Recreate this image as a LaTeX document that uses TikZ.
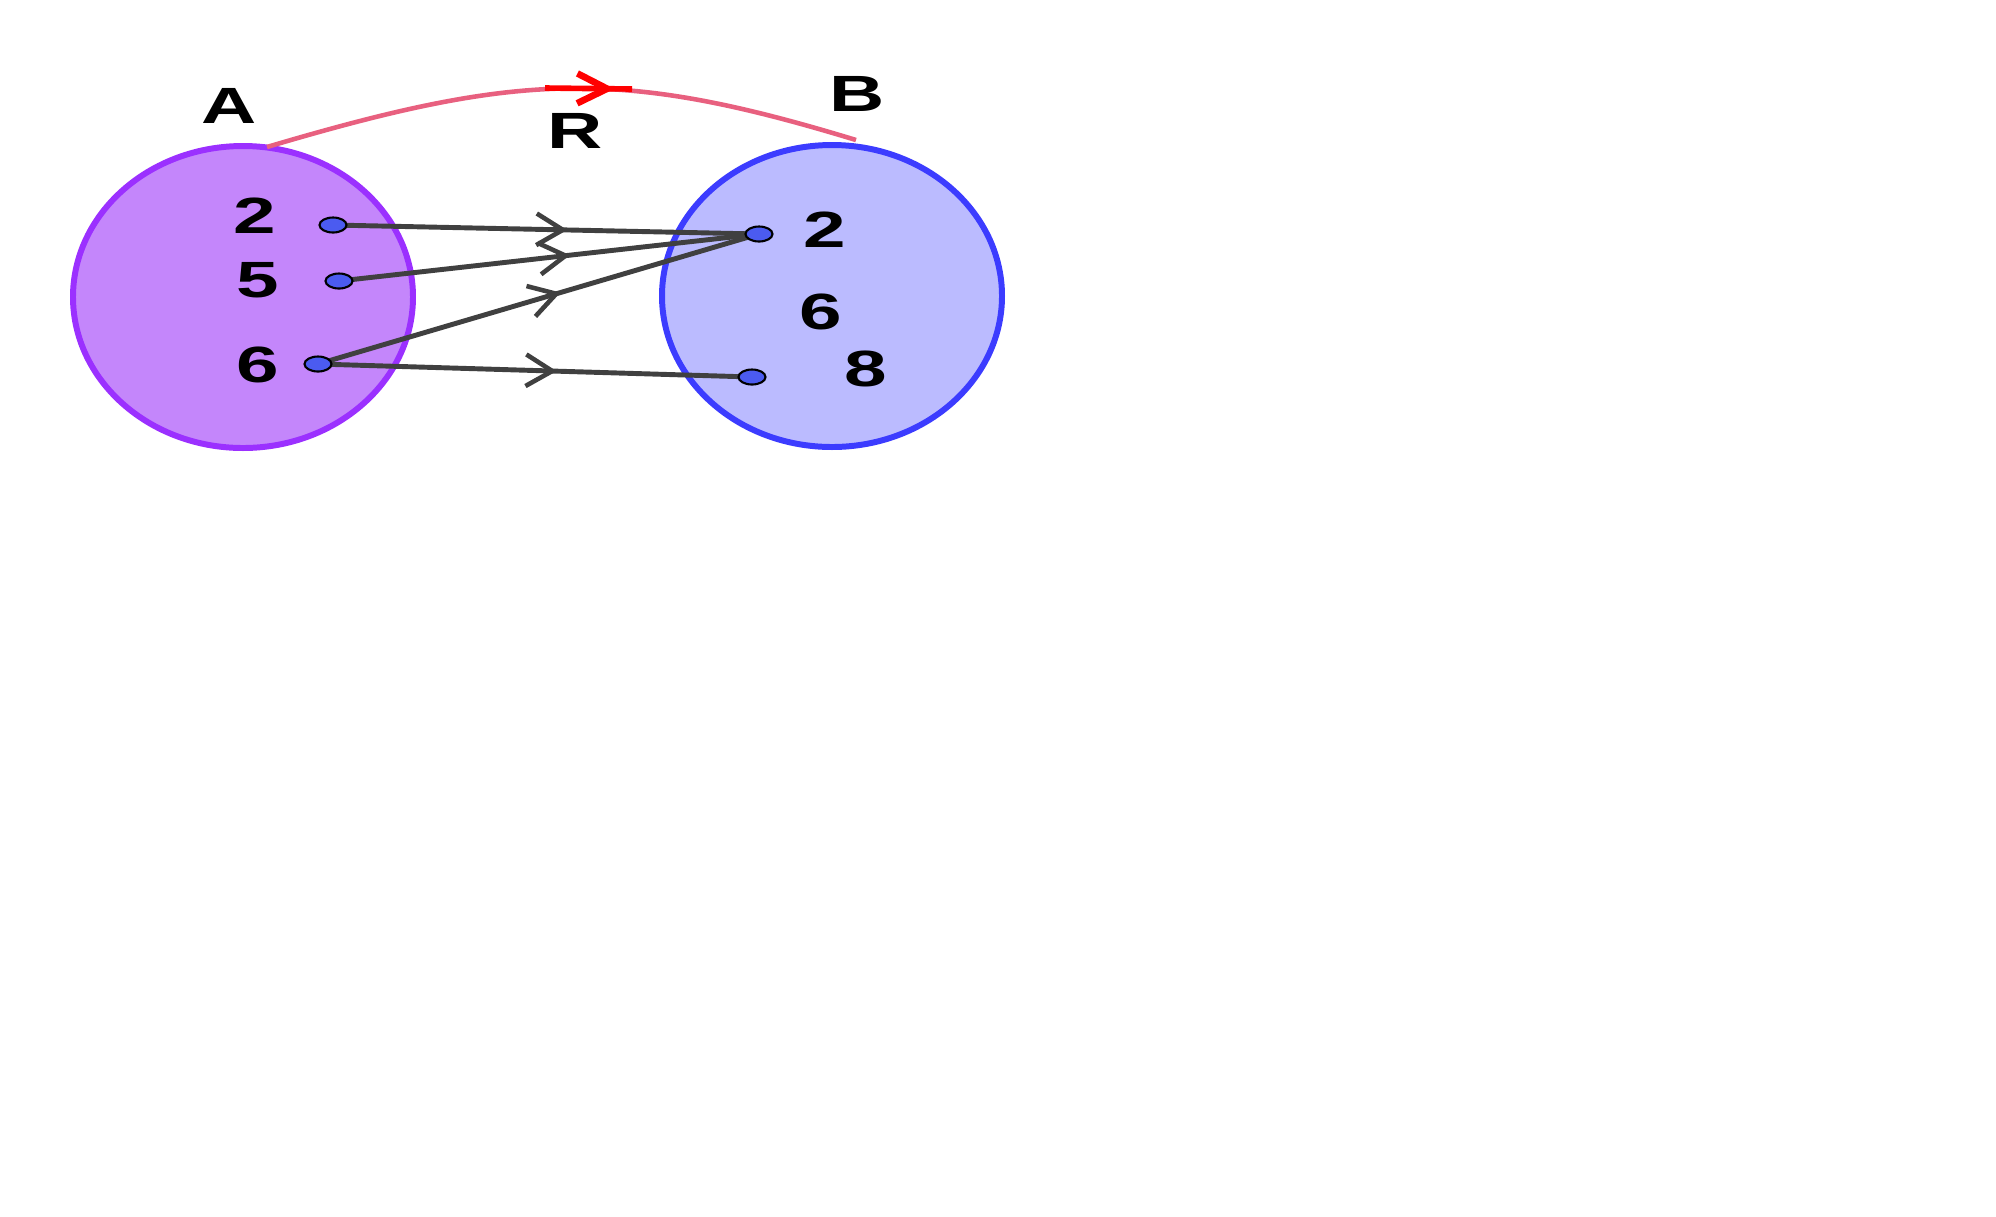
\documentclass[tikz,border=0pt]{standalone}
\usepackage{fontspec}
\newfontfamily\lbl[FakeStretch=1.5]{Liberation Sans}
\usetikzlibrary{shapes.geometric,arrows.meta,decorations.markings}
\definecolor{afill}{HTML}{C486FB}
\definecolor{adraw}{HTML}{9B30FF}
\definecolor{bfill}{HTML}{BBBBFF}
\definecolor{bdraw}{HTML}{3C3CFF}
\definecolor{dotc}{HTML}{4B5BF0}
\definecolor{connc}{HTML}{404040}
\definecolor{arcc}{HTML}{E8607F}
\definecolor{arcred}{HTML}{FF0000}
\tikzset{
  setbox/.style={ellipse, inner sep=0pt, minimum width=34mm, minimum height=30.2mm, line width=1.7pt},
  txt/.style={font=\lbl\bfseries\fontsize{14.5}{16}\selectfont, inner sep=0pt, anchor=center},
  eldot/.style={ellipse, draw=black, fill=dotc, line width=0.6pt, inner sep=0pt, minimum width=2.7mm, minimum height=1.5mm},
  conn/.style={draw=connc, line width=1.4pt,
    postaction={decorate, decoration={markings, mark=at position 0.55 with {\arrow[connc]{Straight Barb[length=7.5pt, width=9pt, line width=1.3pt]}}}}},
  relarc/.style={draw=arcc, line width=1.3pt},
  relarrow/.style={draw=arcred, line width=1.6pt,
    postaction={decorate, decoration={markings, mark=at position 0.8 with {\arrow[arcred]{Straight Barb[length=8.5pt, width=8.5pt, line width=1.9pt]}}}}}
}
\begin{document}
\begin{tikzpicture}[x=0.1mm, y=-0.1mm]
\useasboundingbox (0,0) rectangle (1996,1216);
\fill[white] (0,0) rectangle (1996,1216);
% sets
\node (SA) [setbox, draw=adraw, fill=afill] at (243,297) {};
\node (SB) [setbox, draw=bdraw, fill=bfill] at (832,296) {};
% labels
\node (lA) [txt] at (229,106) {A};
\node (lB) [txt] at (857,94) {B};
\node (lR) [txt] at (575,131) {R};
\node (a2t) [txt] at (255,216) {2};
\node (a5t) [txt] at (258,280) {5};
\node (a6t) [txt] at (258,365) {6};
\node (b2t) [txt] at (825,230) {2};
\node (b6t) [txt] at (821,312) {6};
\node (b8t) [txt] at (866,369) {8};
% relation arc
\coordinate (arcS) at (267,147);
\coordinate (arcE) at (856,140);
\draw[relarc] (arcS) .. controls (520,72) and (620,68) .. (arcE);
\coordinate (redS) at (545,88);
\coordinate (redE) at (632,89);
\draw[relarrow] (redS) -- (redE);
% points
\coordinate (a2) at (333,225);
\coordinate (a5) at (339,281);
\coordinate (a6) at (318,364);
\coordinate (b2) at (759,234);
\coordinate (b8) at (752,377);
\draw[conn] (a2) -- (b2);
\draw[conn] (a5) -- (b2);
\draw[conn] (a6) -- (b2);
\draw[conn] (a6) -- (b8);
\node (pa2) [eldot] at (a2) {};
\node (pa5) [eldot] at (a5) {};
\node (pa6) [eldot] at (a6) {};
\node (pb2) [eldot] at (b2) {};
\node (pb8) [eldot] at (b8) {};
\end{tikzpicture}
\end{document}
